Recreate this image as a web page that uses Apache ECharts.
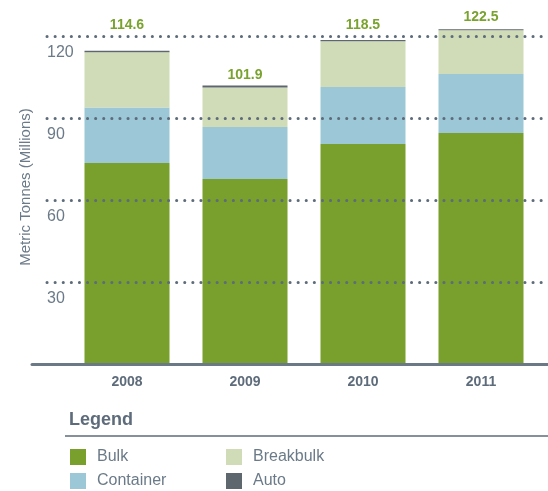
<!DOCTYPE html>
<html>
<head>
<meta charset="utf-8">
<script src="https://cdn.jsdelivr.net/npm/echarts@6/dist/echarts.min.js"></script>
<style>
  html, body { margin: 0; padding: 0; background: #fff; }
  #chart { width: 548px; height: 491px; }
</style>
</head>
<body>
<div id="chart"></div>
<script>
  // data (million metric tonnes)
  var years = ['2008', '2009', '2010', '2011']
  var bulk = [73.5, 67.7, 80.5, 84.5]
  var container = [20.3, 19.0, 20.8, 21.6]
  var breakbulk = [20.3, 14.5, 16.8, 16.0]
  var auto = [0.5, 0.7, 0.4, 0.4]
  var yTicks = [0, 30, 60, 90, 120]

  var font = 'Liberation Sans'
  var slate = '#5d6b7a'
  var labelGap = [19, 3, 8, 5] // the totals are not set at an even height

  var totals = years.map(function (y, i) {
    return (bulk[i] + container[i] + breakbulk[i] + auto[i]).toFixed(1)
  })

  var chart = echarts.init(document.getElementById('chart'))

  function barSeries(name, values, color) {
    return {
      name: name,
      type: 'bar',
      stack: 'total',
      xAxisIndex: 0,
      yAxisIndex: 0,
      barWidth: 85,
      clip: false,
      itemStyle: {color: color},
      data: values
    }
  }

  var autoSeries = barSeries('Auto', auto.map(function (v, i) {
    return {value: v, label: {distance: labelGap[i]}}
  }), '#5e666e')
  autoSeries.label = {
    show: true,
    position: 'top',
    fontFamily: font,
    fontSize: 14,
    fontWeight: 'bold',
    color: '#79a22e',
    formatter: function (p) { return totals[p.dataIndex] }
  }

  function legendBox(names, left) {
    return {
      data: names,
      orient: 'vertical',
      left: left, top: 449,
      padding: 0,
      itemWidth: 16, itemHeight: 16, itemGap: 8,
      icon: 'rect',
      textStyle: {fontFamily: font, fontSize: 16, color: '#6b7a88', padding: [0, 0, 0, 6]}
    }
  }

  chart.setOption({
    animation: false,
    textStyle: {fontFamily: font},
    title: {
      text: 'Legend',
      left: 64,
      top: 406,
      textStyle: {fontFamily: font, fontSize: 18, fontWeight: 'bold', color: slate}
    },
    graphic: [{
      type: 'line',
      shape: {x1: 65, y1: 436, x2: 548, y2: 436},
      style: {stroke: slate, lineWidth: 1.5}
    }],
    legend: [
      legendBox(['Bulk', 'Container'], 70),
      legendBox(['Breakbulk', 'Auto'], 226)
    ],
    grid: [
      {left: 68, width: 472, top: 36, bottom: 127},  // bars
      {left: 47, right: 0, top: 36, bottom: 127},    // dotted lines + tick labels
      {left: 32, right: 0, top: 10, bottom: 127}     // base line + axis name
    ],
    xAxis: [
      {
        gridIndex: 0,
        type: 'category',
        data: years,
        axisLine: {show: false},
        axisTick: {show: false},
        axisLabel: {margin: 11, fontFamily: font, fontSize: 14, fontWeight: 'bold', color: slate}
      },
      {gridIndex: 1, type: 'category', data: years, show: false},
      {
        gridIndex: 2,
        type: 'category',
        data: years,
        z: 4,
        axisLine: {show: true, lineStyle: {color: '#6b7987', width: 3}},
        axisTick: {show: false},
        axisLabel: {show: false}
      }
    ],
    yAxis: [
      {gridIndex: 0, type: 'value', min: 0, max: 120, show: false},
      {
        gridIndex: 1,
        type: 'value',
        min: yTicks[0],
        max: yTicks[yTicks.length - 1],
        interval: yTicks[1] - yTicks[0],
        z: 3,
        axisLine: {show: false},
        axisTick: {show: false},
        axisLabel: {
          inside: true,
          margin: 0,
          showMinLabel: false,
          verticalAlign: 'top',
          padding: [9, 0, 0, 0],
          fontFamily: font,
          fontSize: 16,
          color: '#6b7a88'
        },
        splitLine: {
          show: true,
          showMinLine: false,
          lineStyle: {color: slate, width: 3, type: [0.1, 8], cap: 'round'}
        }
      },
      {
        gridIndex: 2,
        type: 'value',
        min: 0,
        max: 130,
        name: 'Metric Tonnes (Millions)',
        nameLocation: 'middle',
        nameGap: -1,
        nameTextStyle: {fontFamily: font, fontSize: 15, color: '#6b7a88'},
        axisLine: {show: false},
        axisTick: {show: false},
        axisLabel: {show: false},
        splitLine: {show: false}
      }
    ],
    series: [
      barSeries('Bulk', bulk, '#79a02d'),
      barSeries('Container', container, '#9bc7d6'),
      barSeries('Breakbulk', breakbulk, '#d0dcb8'),
      autoSeries
    ]
  })
</script>
</body>
</html>
